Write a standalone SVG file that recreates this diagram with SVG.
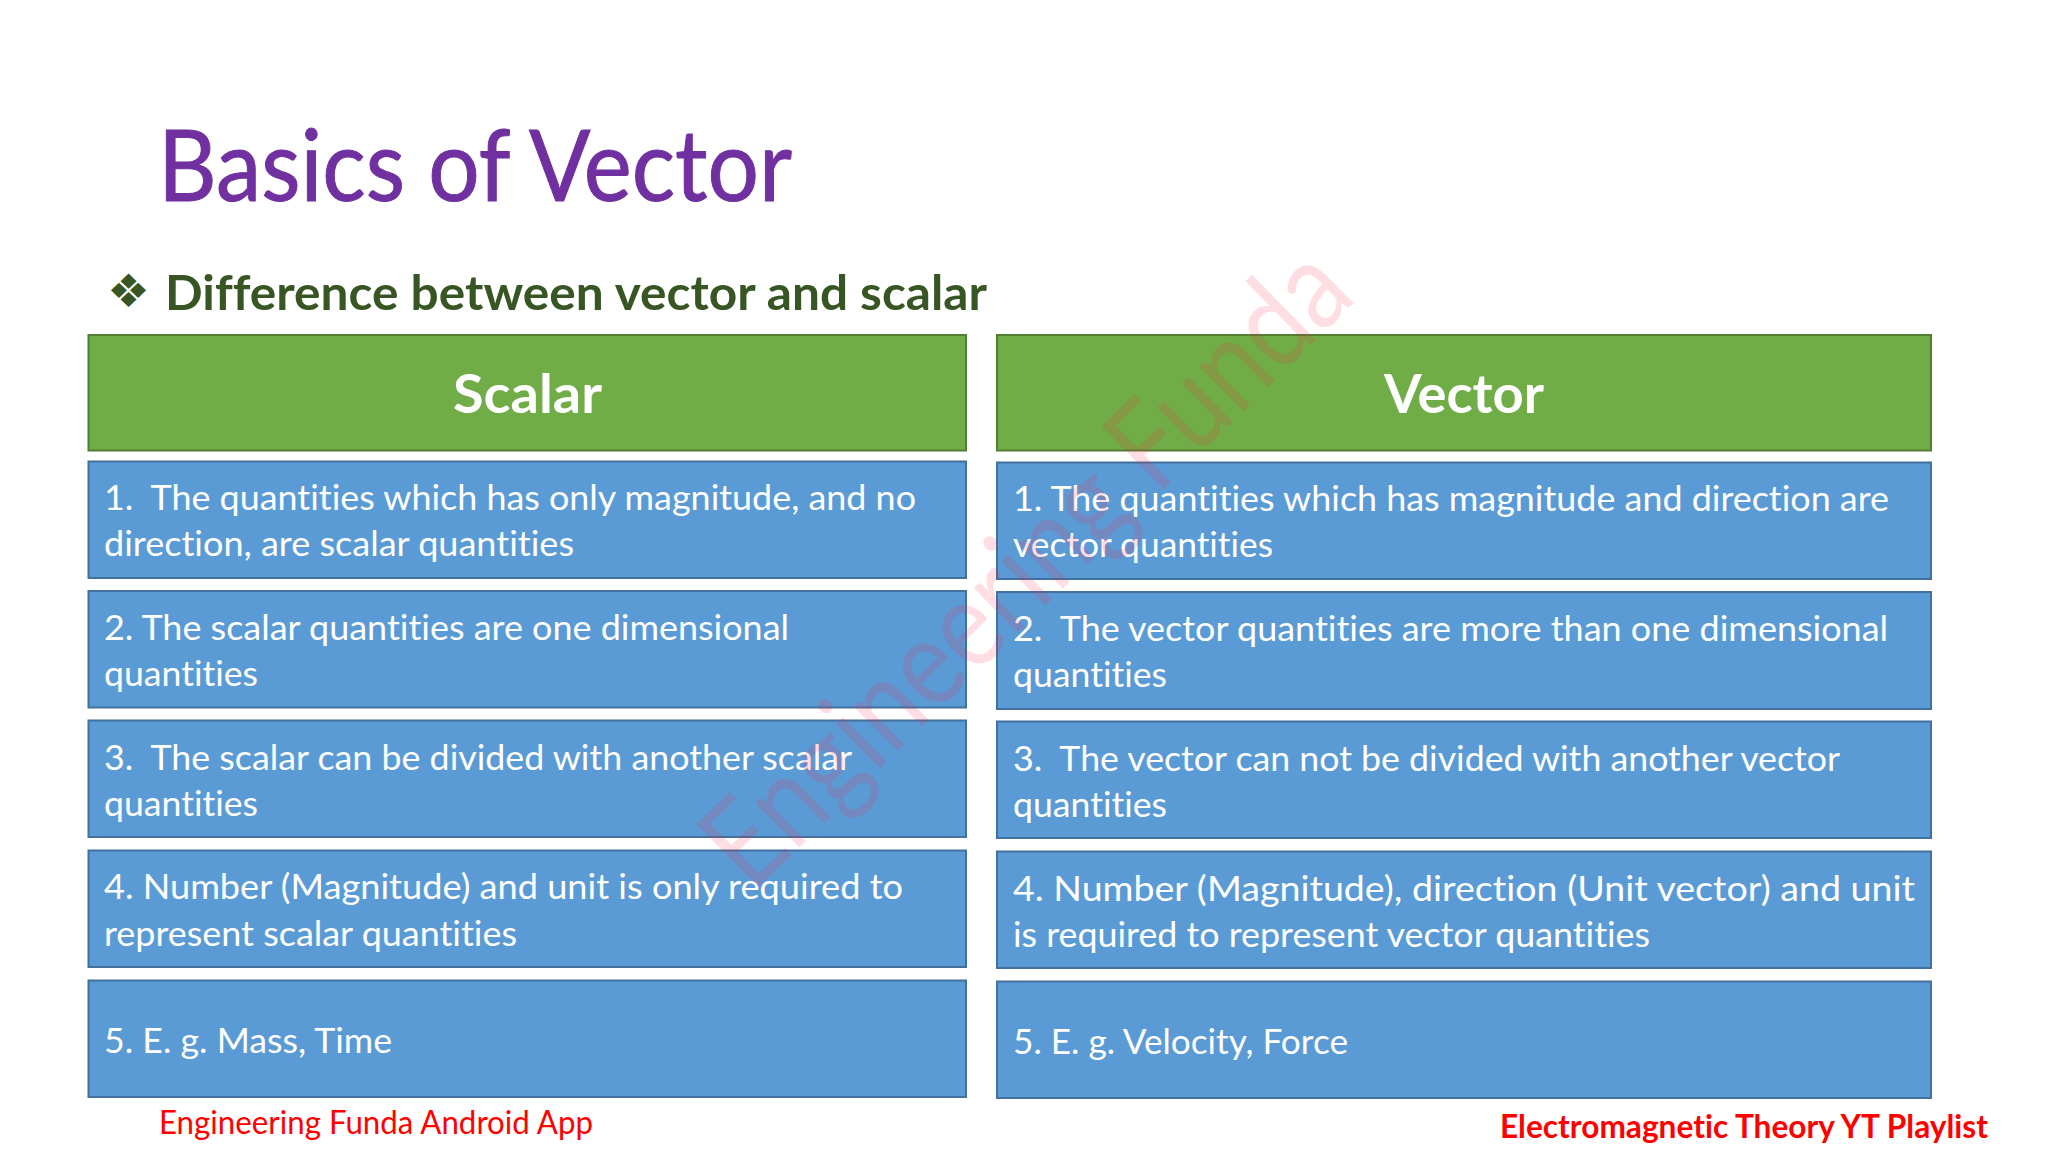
<svg xmlns="http://www.w3.org/2000/svg" width="2048" height="1152" viewBox="0 0 2048 1152">
<style>
text{font-family:"Lato","Carlito","Open Sans",sans-serif;font-variant-ligatures:none}
.g{fill:#70ad47;stroke:#507e32;stroke-width:2}
.b{fill:#5b9bd5;stroke:#41719c;stroke-width:2}
.t{font-size:35px;fill:#fff}
.h{font-size:53px;font-weight:700;fill:#fff}
</style>
<rect width="2048" height="1152" fill="#fff"/>
<g id="title"><text x="158" y="201" font-size="98" fill="#7030a0" stroke="#7030a0" stroke-width="1" textLength="634" lengthAdjust="spacingAndGlyphs">Basics of Vector</text></g>
<g id="subtitle">
<text x="107" y="307" font-size="46" fill="#375623" style="font-family:'DejaVu Sans',sans-serif" textLength="43" lengthAdjust="spacingAndGlyphs">❖</text>
<text x="165" y="310" font-size="48" font-weight="700" fill="#375623" textLength="822" lengthAdjust="spacingAndGlyphs">Difference between vector and scalar</text>
</g>
<g id="scalar-header"><rect class="g" x="88.500" y="335" width="877.500" height="115.500"/><text class="h" x="453" y="413" textLength="149" lengthAdjust="spacingAndGlyphs">Scalar</text></g>
<g id="vector-header"><rect class="g" x="997" y="335" width="934" height="115.500"/><text class="h" x="1384" y="413" textLength="160" lengthAdjust="spacingAndGlyphs">Vector</text></g>
<g id="scalar-1"><rect class="b" x="88.500" y="461.500" width="877.500" height="116.500"/>
<text class="t" x="104" y="510" xml:space="preserve" textLength="812" lengthAdjust="spacingAndGlyphs">1.  The quantities which has only magnitude, and no</text>
<text class="t" x="104" y="556" textLength="470" lengthAdjust="spacingAndGlyphs">direction, are scalar quantities</text></g>
<g id="scalar-2"><rect class="b" x="88.500" y="591" width="877.500" height="116.500"/>
<text class="t" x="104" y="640" textLength="685" lengthAdjust="spacingAndGlyphs">2. The scalar quantities are one dimensional</text>
<text class="t" x="104" y="686" textLength="154" lengthAdjust="spacingAndGlyphs">quantities</text></g>
<g id="scalar-3"><rect class="b" x="88.500" y="720.500" width="877.500" height="116.500"/>
<text class="t" x="104" y="770" xml:space="preserve" textLength="748" lengthAdjust="spacingAndGlyphs">3.  The scalar can be divided with another scalar</text>
<text class="t" x="104" y="816" textLength="154" lengthAdjust="spacingAndGlyphs">quantities</text></g>
<g id="scalar-4"><rect class="b" x="88.500" y="850.500" width="877.500" height="116.500"/>
<text class="t" x="104" y="899" textLength="799" lengthAdjust="spacingAndGlyphs">4. Number (Magnitude) and unit is only required to</text>
<text class="t" x="104" y="946" textLength="413" lengthAdjust="spacingAndGlyphs">represent scalar quantities</text></g>
<g id="scalar-5"><rect class="b" x="88.500" y="980.500" width="877.500" height="116.500"/>
<text class="t" x="104" y="1053" textLength="288" lengthAdjust="spacingAndGlyphs">5. E. g. Mass, Time</text></g>
<g id="vector-1"><rect class="b" x="997" y="462.500" width="934" height="116.500"/>
<text class="t" x="1013" y="511" textLength="876" lengthAdjust="spacingAndGlyphs">1. The quantities which has magnitude and direction are</text>
<text class="t" x="1013" y="557" textLength="260" lengthAdjust="spacingAndGlyphs">vector quantities</text></g>
<g id="vector-2"><rect class="b" x="997" y="592" width="934" height="117"/>
<text class="t" x="1013" y="641" xml:space="preserve" textLength="875" lengthAdjust="spacingAndGlyphs">2.  The vector quantities are more than one dimensional</text>
<text class="t" x="1013" y="687" textLength="154" lengthAdjust="spacingAndGlyphs">quantities</text></g>
<g id="vector-3"><rect class="b" x="997" y="721.500" width="934" height="116.500"/>
<text class="t" x="1013" y="771" xml:space="preserve" textLength="827" lengthAdjust="spacingAndGlyphs">3.  The vector can not be divided with another vector</text>
<text class="t" x="1013" y="817" textLength="154" lengthAdjust="spacingAndGlyphs">quantities</text></g>
<g id="vector-4"><rect class="b" x="997" y="851.500" width="934" height="116.500"/>
<text class="t" x="1013" y="901" textLength="902" lengthAdjust="spacingAndGlyphs">4. Number (Magnitude), direction (Unit vector) and unit</text>
<text class="t" x="1013" y="947" textLength="637" lengthAdjust="spacingAndGlyphs">is required to represent vector quantities</text></g>
<g id="vector-5"><rect class="b" x="997" y="981.500" width="934" height="116.500"/>
<text class="t" x="1013" y="1054" textLength="335" lengthAdjust="spacingAndGlyphs">5. E. g. Velocity, Force</text></g>
<g id="footer">
<text x="159" y="1134" font-size="33" fill="#f00" textLength="434" lengthAdjust="spacingAndGlyphs">Engineering Funda Android App</text>
<text x="1500" y="1138" font-size="33" font-weight="700" fill="#f00" textLength="488" lengthAdjust="spacingAndGlyphs">Electromagnetic Theory YT Playlist</text>
</g>
<g id="watermark"><text transform="translate(752,894) rotate(-44.500)" font-size="124" fill="#ff2040" fill-opacity="0.15" textLength="850" lengthAdjust="spacingAndGlyphs">Engineering Funda</text></g>
</svg>
